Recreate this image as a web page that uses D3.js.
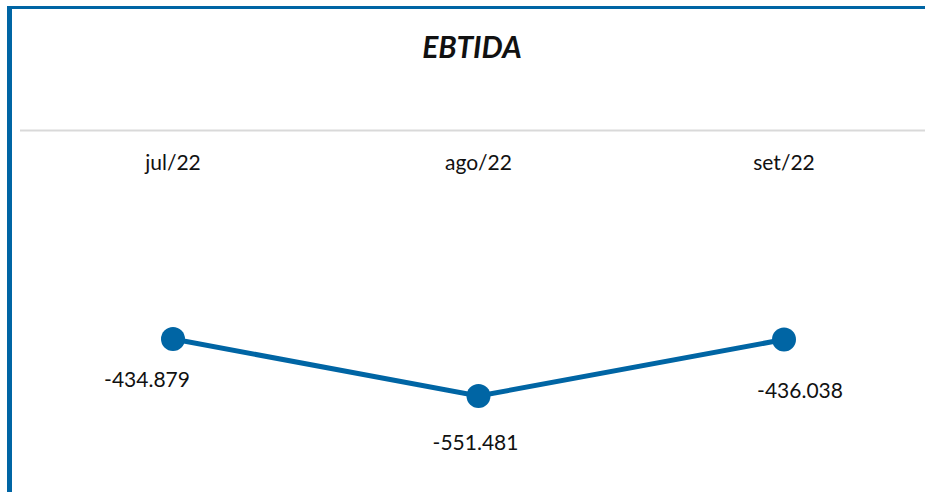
<!DOCTYPE html>
<html>
<head>
<meta charset="utf-8">
<script src="https://cdn.jsdelivr.net/npm/d3@7"></script>
<style>
  body { margin: 0; background: #fff; }
  text { font-family: "Lato", "DejaVu Sans", sans-serif; fill: #111; }
</style>
</head>
<body>
<script>
width = 925
height = 492
blue = "#0065A4"

months = ["jul/22", "ago/22", "set/22"]
ebtida = [-434.879, -551.481, -436.038]
valueLabels = ["-434.879", "-551.481", "-436.038"]
// where each value label sits relative to its point
labelShift = [[-26, 48], [-3, 54], [16, 58]]

svg = d3.select("body")
    .append("svg")
    .attr("width", width)
    .attr("height", height)

// frame: blue on top and left
svg.append("rect")
    .attr("x", 7).attr("y", 6)
    .attr("width", width - 7).attr("height", 3)
    .attr("fill", blue)
svg.append("rect")
    .attr("x", 7).attr("y", 6)
    .attr("width", 5).attr("height", height - 6)
    .attr("fill", blue)

svg.append("text")
    .attr("x", 472)
    .attr("y", 58)
    .attr("text-anchor", "middle")
    .attr("font-size", 30)
    .attr("font-weight", "bold")
    .attr("font-style", "italic")
    .text("EBTIDA")

svg.append("line")
    .attr("x1", 20).attr("x2", width)
    .attr("y1", 130.5).attr("y2", 130.5)
    .attr("stroke", "#d9d9d9")
    .attr("stroke-width", 2)

x = d3.scalePoint()
    .domain(months)
    .range([173, 784])

y = d3.scaleLinear()
    .domain([-600, -300])
    .range([419.7, 273.1])

data = months.map(function(m, i) {
    return {m: m, v: ebtida[i], label: valueLabels[i], shift: labelShift[i]};
})

svg.selectAll("text.month")
    .data(months)
    .enter()
    .append("text")
    .attr("class", "month")
    .attr("x", function(d) { return x(d); })
    .attr("y", 170)
    .attr("text-anchor", "middle")
    .attr("font-size", 21)
    .text(function(d) { return d; })

line = d3.line()
    .x(function(d) { return x(d.m); })
    .y(function(d) { return y(d.v); })

svg.append("path")
    .datum(data)
    .attr("d", line)
    .attr("fill", "none")
    .attr("stroke", blue)
    .attr("stroke-width", 5)

svg.selectAll("circle")
    .data(data)
    .enter()
    .append("circle")
    .attr("cx", function(d) { return x(d.m); })
    .attr("cy", function(d) { return y(d.v); })
    .attr("r", 12)
    .attr("fill", blue)

svg.selectAll("text.val")
    .data(data)
    .enter()
    .append("text")
    .attr("class", "val")
    .attr("x", function(d) { return x(d.m) + d.shift[0]; })
    .attr("y", function(d) { return y(d.v) + d.shift[1]; })
    .attr("text-anchor", "middle")
    .attr("font-size", 21)
    .text(function(d) { return d.label; })
</script>
</body>
</html>
